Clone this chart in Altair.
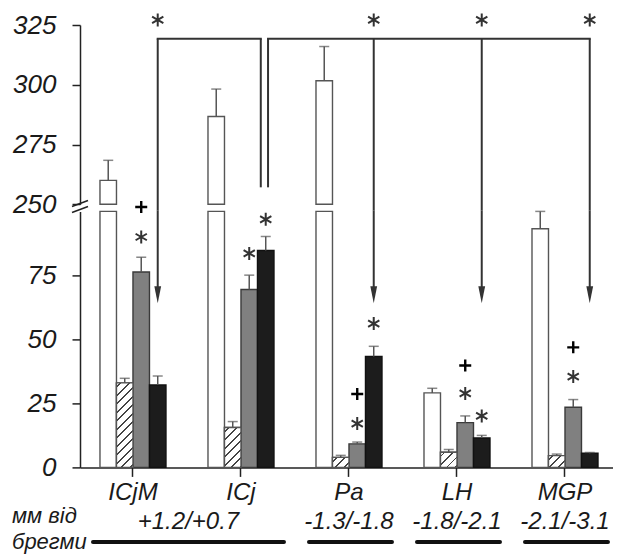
import altair as alt
import pandas as pd

# ---------------- data ----------------
cats = ["ICjM", "ICj", "Pa", "LH", "MGP"]
series = ["S1", "S2", "S3", "S4"]

white = [260.0, 286.7, 301.7, 29.1, 93.2]
white_err = [8.4, 11.5, 14.3, 1.8, 6.8]
hatched = [33.0, 15.6, 3.9, 5.9, 4.6]
hatched_err = [1.8, 2.3, 0.8, 1.1, 0.6]
gray = [76.3, 69.5, 9.2, 17.5, 23.5]
gray_err = [5.8, 5.6, 0.7, 2.6, 3.0]
black = [32.2, 84.7, 43.3, 11.5, 5.5]
black_err = [3.5, 5.5, 4.0, 1.0, 0.3]

y_ticks_low = [0, 25, 50, 75]
y_ticks_up = [250, 275, 300, 325]

star_cats = ["ICjM", "ICj", "ICj", "Pa", "Pa", "LH", "LH", "MGP"]
star_sers = ["S3", "S3", "S4", "S3", "S4", "S3", "S4", "S3"]
star_y = [90.0, 83.6, 96.9, 17.1, 56.2, 28.9, 20.1, 35.5]
plus_cats = ["ICjM", "Pa", "LH", "MGP"]
plus_y = [101.7, 28.7, 39.8, 46.9]

bracket_from = "ICj"
bracket_to = ["ICjM", "Pa", "LH", "MGP"]
bracket_level = 319.3
bracket_stem_bottom = 257.1
arrow_tip = 64.1
top_star_y = 327.1

range_labels = ["+1.2/+0.7", "-1.3/-1.8", "-1.8/-2.1", "-2.1/-3.1"]
range_start = ["ICjM", "Pa", "LH", "MGP"]
range_end = ["ICj", "Pa", "LH", "MGP"]
side_label_1 = "мм від"
side_label_2 = "брегми"

# ---------------- layout ----------------
FONT = "Liberation Sans"
W = 533
H_UP = 179.3
H_LOW = 256
GAP = 6.4
LOW_MAX = 100
UP_MIN, UP_MAX = 250, 325
px_up = H_UP / (UP_MAX - UP_MIN)
px_low = H_LOW / LOW_MAX
BAR_W = 16.5

rows = []
for i, c in enumerate(cats):
    for s, vals, errs in zip(series, [white, hatched, gray, black],
                             [white_err, hatched_err, gray_err, black_err]):
        rows.append(dict(cat=c, ser=s, v=vals[i], e=errs[i]))
df = pd.DataFrame(rows)
df["top"] = df["v"] + df["e"]
df["low_v"] = df["v"].clip(upper=LOW_MAX)
df["base"] = UP_MIN

xscale = alt.Scale(domain=cats, paddingInner=0.389, paddingOuter=0.162, align=0.571)
offscale = alt.Scale(domain=series, paddingInner=0, paddingOuter=0)
yl = alt.Scale(domain=[0, LOW_MAX], nice=False, zero=False)
yu = alt.Scale(domain=[UP_MIN, UP_MAX], nice=False, zero=False)

ax_x_low = alt.Axis(labelAngle=0)
ax_yl = alt.Axis(values=y_ticks_low)
ax_yu = alt.Axis(values=y_ticks_up)


def X(field="cat", bp=None, axis=None):
    kw = {}
    if bp is not None:
        kw["bandPosition"] = bp
    if axis is None:
        return alt.X(f"{field}:N", scale=xscale, axis=None, title=None, **kw)
    return alt.X(f"{field}:N", scale=xscale, axis=axis, title=None, **kw)


XO = alt.XOffset("ser:N", scale=offscale)

INK = "#333333"
ERR = "#555555"
STAR = "M0,-1L0,1M-0.866,-0.5L0.866,0.5M-0.866,0.5L0.866,-0.5"
PLUS = "M-1,0L1,0M0,-1L0,1"
HEAD = "M-0.4,-1L0.4,-1L0,1Z"


def hatch(h, w=BAR_W, period=8.5, lw=1.8):
    L = w + h
    k = L / (w * w + h * h)
    stops = [{"offset": 0, "color": "#ffffff"}]
    d = lw / 2 / L
    j = 1
    last = 0
    while True:
        c = (j - 0.5) * period / L
        if c - d >= 1:
            break
        a, b = max(c - d, last), min(c + d, 1)
        stops += [{"offset": a, "color": "#ffffff"}, {"offset": a, "color": "#444444"},
                  {"offset": b, "color": "#444444"}, {"offset": b, "color": "#ffffff"}]
        last = b
        j += 1
    stops.append({"offset": 1, "color": "#ffffff"})
    return {"gradient": "linear", "x1": 0, "y1": 0, "x2": w * k, "y2": h * k, "stops": stops}


fill_scale = alt.Scale(domain=series, range=["#ffffff", "#ffffff", "#808080", "#1c1c1c"])
stroke_scale = alt.Scale(domain=series, range=["#555555", "#555555", "#3a3a3a", "#111111"])

# ---------------- upper panel ----------------
df_up = df[df["v"] > UP_MIN]
bars_up = alt.Chart(df_up).mark_bar(strokeWidth=1.4).encode(
    x=X(), xOffset=XO,
    y=alt.Y("v:Q", scale=yu, axis=ax_yu, title=None),
    y2=alt.Y2("base:Q"),
    fill=alt.Fill("ser:N", scale=fill_scale, legend=None),
    stroke=alt.Stroke("ser:N", scale=stroke_scale, legend=None),
)
err_up = alt.Chart(df_up).mark_rule(color=ERR, strokeWidth=1.5).encode(
    x=X(), xOffset=XO, y=alt.Y("v:Q", scale=yu, axis=ax_yu, title=None), y2="top:Q")
cap_up = alt.Chart(df_up).mark_tick(color=ERR, size=10, thickness=1.5).encode(
    x=X(), xOffset=XO, y=alt.Y("top:Q", scale=yu, axis=ax_yu, title=None))

gap_bottom = UP_MIN - GAP / px_up
arrows_df = pd.DataFrame({"cat": bracket_to, "y": bracket_level, "y2": gap_bottom, "ser": "S4"})
shaft_up = alt.Chart(arrows_df).mark_rule(color=INK, strokeWidth=2).encode(
    x=X(bp=0.875), y=alt.Y("y:Q", scale=yu, axis=ax_yu, title=None), y2="y2:Q")
stem_df = pd.DataFrame({"cat": [bracket_from], "y": [bracket_level], "y2": [bracket_stem_bottom]})
stem_l = alt.Chart(stem_df).mark_rule(color=INK, strokeWidth=2).encode(
    x=X(bp=0.80), y=alt.Y("y:Q", scale=yu, axis=ax_yu, title=None), y2="y2:Q")
stem_r = alt.Chart(stem_df).mark_rule(color=INK, strokeWidth=2).encode(
    x=X(bp=0.91), y=alt.Y("y:Q", scale=yu, axis=ax_yu, title=None), y2="y2:Q")
hl_df = pd.DataFrame({"a": [bracket_to[0]], "b": [bracket_from], "y": [bracket_level]})
hr_df = pd.DataFrame({"a": [bracket_from], "b": [bracket_to[-1]], "y": [bracket_level]})
h_left = alt.Chart(hl_df).mark_rule(color=INK, strokeWidth=2, strokeCap="square").encode(
    x=X("a", bp=0.875), x2=alt.X2("b:N", bandPosition=0.80),
    y=alt.Y("y:Q", scale=yu, axis=ax_yu, title=None))
h_right = alt.Chart(hr_df).mark_rule(color=INK, strokeWidth=2, strokeCap="square").encode(
    x=X("a", bp=0.91), x2=alt.X2("b:N", bandPosition=0.875),
    y=alt.Y("y:Q", scale=yu, axis=ax_yu, title=None))
top_star_df = pd.DataFrame({"cat": bracket_to, "ser": "S4", "y": top_star_y})
top_stars = alt.Chart(top_star_df).mark_point(
    shape=STAR, size=169, filled=False, strokeWidth=2, color=INK, opacity=1).encode(
    x=X(), xOffset=XO, y=alt.Y("y:Q", scale=yu, axis=ax_yu, title=None))

one = pd.DataFrame({"k": [0]})
slash1 = alt.Chart(one).mark_rule(color="#222", strokeWidth=1.6).encode(
    x=alt.value(-8), x2=alt.value(8), y=alt.value(H_UP + 2.2), y2=alt.value(H_UP - 3.8))
slash2 = alt.Chart(one).mark_rule(color="#222", strokeWidth=1.6).encode(
    x=alt.value(-8), x2=alt.value(8), y=alt.value(H_UP + 8.2), y2=alt.value(H_UP + 2.2))

upper = alt.layer(bars_up, err_up, cap_up, shaft_up, stem_l, stem_r, h_left, h_right,
                  top_stars, slash1, slash2).properties(width=W, height=H_UP)

# ---------------- lower panel ----------------
bars_low = alt.Chart(df).mark_bar(strokeWidth=1.4).encode(
    x=X(axis=ax_x_low), xOffset=XO,
    y=alt.Y("low_v:Q", scale=yl, axis=ax_yl, title=None),
    fill=alt.Fill("ser:N", scale=fill_scale, legend=None),
    stroke=alt.Stroke("ser:N", scale=stroke_scale, legend=None),
)
hatch_layers = []
for i, c in enumerate(cats):
    sub = df[(df["cat"] == c) & (df["ser"] == "S2")]
    h = hatched[i] * px_low
    hatch_layers.append(
        alt.Chart(sub).mark_bar(fill=hatch(h), stroke="#555555", strokeWidth=1.4).encode(
            x=X(axis=ax_x_low), xOffset=XO,
            y=alt.Y("low_v:Q", scale=yl, axis=ax_yl, title=None)))
df_le = df[df["top"] <= LOW_MAX + 1]
err_low = alt.Chart(df_le).mark_rule(color=ERR, strokeWidth=1.5).encode(
    x=X(axis=ax_x_low), xOffset=XO, y=alt.Y("v:Q", scale=yl, axis=ax_yl, title=None), y2="top:Q")
cap_low = alt.Chart(df_le).mark_tick(color=ERR, size=10, thickness=1.5).encode(
    x=X(axis=ax_x_low), xOffset=XO, y=alt.Y("top:Q", scale=yl, axis=ax_yl, title=None))

head_c = arrow_tip + 8.5 / px_low
arr_low_df = pd.DataFrame({"cat": bracket_to, "y": LOW_MAX + 0.3, "y2": head_c})
shaft_low = alt.Chart(arr_low_df).mark_rule(color=INK, strokeWidth=2).encode(
    x=X(bp=0.875, axis=ax_x_low), y=alt.Y("y:Q", scale=yl, axis=ax_yl, title=None), y2="y2:Q")
heads = alt.Chart(arr_low_df).mark_point(
    shape=HEAD, size=289, filled=True, color=INK, opacity=1, strokeWidth=0).encode(
    x=X(bp=0.875, axis=ax_x_low), y=alt.Y("y2:Q", scale=yl, axis=ax_yl, title=None))

star_df = pd.DataFrame({"cat": star_cats, "ser": star_sers, "y": star_y})
stars = alt.Chart(star_df).mark_point(
    shape=STAR, size=169, filled=False, strokeWidth=2, color=INK, opacity=1).encode(
    x=X(axis=ax_x_low), xOffset=XO, y=alt.Y("y:Q", scale=yl, axis=ax_yl, title=None))
plus_df = pd.DataFrame({"cat": plus_cats, "ser": "S3", "y": plus_y})
pluses = alt.Chart(plus_df).mark_point(
    shape=PLUS, size=144, filled=False, strokeWidth=2.4, color="#000", opacity=1).encode(
    x=X(axis=ax_x_low), xOffset=XO, y=alt.Y("y:Q", scale=yl, axis=ax_yl, title=None))

rng = pd.DataFrame({"s": range_start, "e": range_end, "t": range_labels})
rng_multi = rng[rng["s"] != rng["e"]]
rng_single = rng[rng["s"] == rng["e"]]
txt_style = dict(font=FONT, fontSize=24, fontStyle="italic", color="#1a1a1a", baseline="middle")
rng_t1 = alt.Chart(rng_multi).mark_text(dx=22.5, **txt_style).encode(
    x=X("s", bp=1.0, axis=ax_x_low), y=alt.value(310.5), text="t:N")
rng_t2 = alt.Chart(rng_single).mark_text(**txt_style).encode(
    x=X("s", bp=0.5, axis=ax_x_low), y=alt.value(310.5), text="t:N")
rng_lines = alt.Chart(rng).mark_rule(color="#111", strokeWidth=4, strokeCap="round",
                                     xOffset=-7, x2Offset=10).encode(
    x=X("s", bp=0.0, axis=ax_x_low), x2=alt.X2("e:N", bandPosition=1.0), y=alt.value(330.5))
side_style = dict(font=FONT, fontSize=22, fontStyle="italic", color="#1a1a1a",
                  baseline="middle", align="left")
side1 = alt.Chart(one).mark_text(**side_style).encode(
    x=alt.value(-68), y=alt.value(305), text=alt.value(side_label_1))
side2 = alt.Chart(one).mark_text(**side_style).encode(
    x=alt.value(-68), y=alt.value(331), text=alt.value(side_label_2))

lower = alt.layer(bars_low, *hatch_layers, err_low, cap_low, shaft_low, heads, stars, pluses,
                  rng_t1, rng_t2, rng_lines, side1, side2).properties(width=W, height=H_LOW)

chart = alt.vconcat(upper, lower, spacing=GAP, bounds="flush").resolve_scale(
    x="independent", y="independent", xOffset="independent"
).properties(
    padding={"top": 1, "left": 4, "right": 0, "bottom": 0}
).configure_view(stroke=None).configure_axis(
    labelFont=FONT, labelFontStyle="italic", labelColor="#1a1a1a",
    domainColor="#222222", tickColor="#222222", domainWidth=1.5, tickWidth=1.5, grid=False,
).configure_axisX(labelFontSize=24, tickSize=9, labelPadding=4).configure_axisY(
    labelFontSize=26, tickSize=8, labelPadding=16)

chart.save("out.html", embed_options={"renderer": "svg", "actions": False})
